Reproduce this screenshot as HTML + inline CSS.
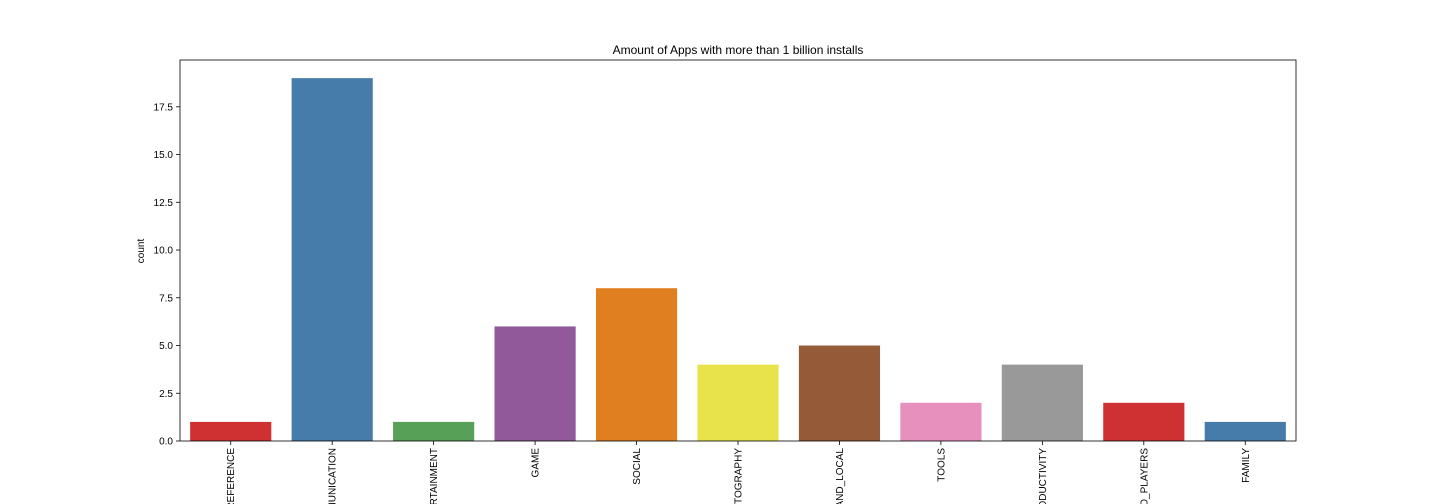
<!DOCTYPE html>
<html><head><meta charset="utf-8"><style>
html,body{margin:0;background:#fff;width:1440px;height:504px;overflow:hidden;font-family:"Liberation Sans",sans-serif}
svg{display:block;overflow:hidden}
</style></head><body>
<svg id="c" width="1440" height="504" viewBox="0 0 1440 504">
<text x="738" y="54" text-anchor="middle" font-size="12">Amount of Apps with more than 1 billion installs</text>
<text transform="translate(144,251) rotate(-90)" text-anchor="middle" font-size="10">count</text>
</svg>
<script>
const categories=["BOOKS_AND_REFERENCE","COMMUNICATION","ENTERTAINMENT","GAME","SOCIAL","PHOTOGRAPHY","TRAVEL_AND_LOCAL","TOOLS","PRODUCTIVITY","VIDEO_PLAYERS","FAMILY"];
const counts=[1,19,1,6,8,4,5,2,4,2,1];
const yTicks=[0,2.5,5,7.5,10,12.5,15,17.5];
const colors=["#cf3133","#467ca9","#57a057","#91599a","#e07f20","#e8e34a","#955a37","#e890bd","#999999","#cf3133","#467ca9"];
const svg=document.getElementById('c');const NS="http://www.w3.org/2000/svg";
const L=180,R=1296,T=60,B=441;
const ymax=Math.max(...counts)*1.05;
const y=v=>B-(v/ymax)*(B-T);
const bw=(R-L)/categories.length;
const x=i=>L+i*bw;
function mk(t,a){const e=document.createElementNS(NS,t);for(const k in a)e.setAttribute(k,a[k]);svg.appendChild(e);return e;}
counts.forEach((v,i)=>{
 const r=mk('rect',{x:x(i)+bw*0.1,y:y(v),width:bw*0.8,height:B-y(v),fill:colors[i]});
 
 
 const cx=x(i)+bw/2;
 const tk=mk('line',{x1:cx,x2:cx,y1:B,y2:B+4,stroke:'#000','stroke-width':0.8});
 
 
 const t=mk('text',{transform:`translate(${cx+3.5},${B+7}) rotate(-90)`,'text-anchor':'end','font-size':10});
 t.textContent=categories[i];
 
 
});
yTicks.forEach(v=>{
 const tk=mk('line',{x1:L-4,x2:L,y1:y(v),y2:y(v),stroke:'#000','stroke-width':0.8});
 
 
 const t=mk('text',{x:L-7,y:y(v)+3.5,'text-anchor':'end','font-size':10});
 t.textContent=v.toFixed(1);
 
 
});
const f=mk('rect',{x:L,y:T,width:R-L,height:B-T,fill:'none',stroke:'#000','stroke-width':0.8});


</script>
</body></html>
